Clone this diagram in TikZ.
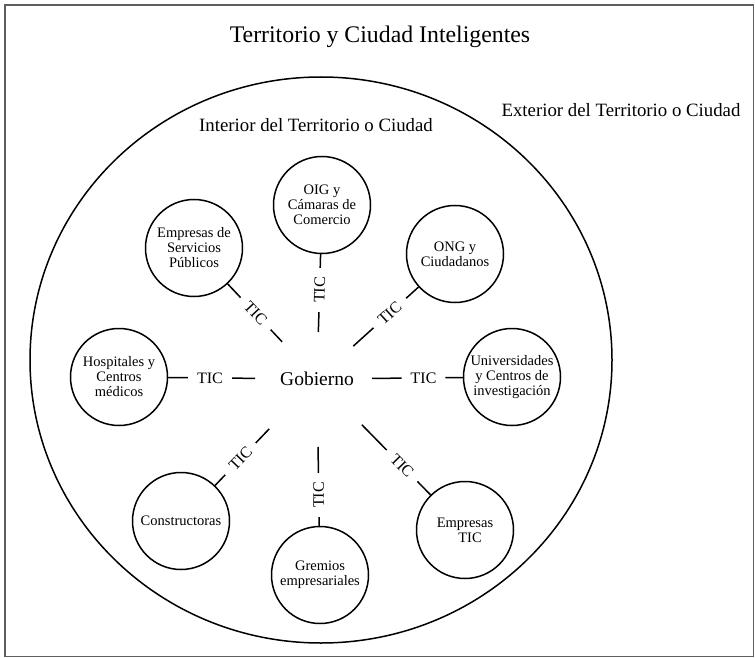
\documentclass[tikz,border=0pt]{standalone}
\usepackage{fontspec}
\setmainfont{Liberation Serif}
\usetikzlibrary{calc,shapes.geometric}
\definecolor{framegray}{HTML}{5E5E5E}

% Spoke from the hub to an actor, broken by a "TIC" label
% #1 actor, #2 gap at the hub (pt), #3 label distance from actor centre (pt), #4 label orientation
\newcommand\ticlink[4]{%
  \draw[link,shorten <=#2pt] (gob.center) -- node[tic,pos=1,#4]{TIC} ($(#1)!#3pt!(gob.center)$) -- (#1);}

\begin{document}
\begin{tikzpicture}[x=1pt,y=-1pt,
  frame/.style={draw=framegray,line width=1.5pt},
  city/.style={draw,ellipse,line width=1.5pt,inner sep=0pt},
  actor/.style={circle,draw,line width=1.5pt,minimum size=97pt,inner sep=0pt,
    align=center,font=\fontsize{14.5}{15}\selectfont},
  link/.style={line width=1.5pt},
  tic/.style={fill=white,inner xsep=9pt,inner ysep=1pt,font=\fontsize{16}{16}\selectfont},
  heading/.style={font=\fontsize{23.8}{25}\selectfont,anchor=base},
  zone/.style={font=\fontsize{18.8}{20}\selectfont,anchor=base}]
\useasboundingbox (0,0) rectangle (755,658);
\draw[frame] (4.8,4.8) rectangle (753.6,656.6);

\node[heading] (title) at (380,43) {Territorio y Ciudad Inteligentes};
\node[zone] (exterior) at (621,117) {Exterior del Territorio o Ciudad};

\node[city,minimum width=582pt,minimum height=566pt] (cityarea) at (321,360) {};
\node[zone] (interior) at (316,131.5) {Interior del Territorio o Ciudad};

\node[font=\fontsize{19.5}{20}\selectfont] (gob) at (317,379) {Gobierno};

\node[actor] (oig) at (322,205) {OIG y\\Cámaras de\\Comercio};
\node[actor] (esp) at (194,248) {Empresas de\\Servicios\\Públicos};
\node[actor] (ong) at (455,254) {ONG y\\Ciudadanos};
\node[actor] (hos) at (119,377) {Hospitales y\\Centros\\médicos};
\node[actor] (uni) at (512,377) {Universidades\\y Centros de\\investigación};
\node[actor] (con) at (181,521) {Constructoras};
\node[actor] (gre) at (320,575) {Gremios\\empresariales};
\node[actor] (etic) at (465,530) {Empresas\\\hspace*{10pt}TIC};

\ticlink{oig}{47}{85}{sloped}
\ticlink{gre}{68}{80}{rotate=90}
\ticlink{hos}{62}{91}{sloped}
\ticlink{uni}{55}{88.5}{sloped}
\ticlink{esp}{51}{90}{sloped}
\ticlink{ong}{49}{88}{sloped}
\ticlink{con}{69}{86}{sloped}
\ticlink{etic}{64}{90}{sloped}
\end{tikzpicture}
\end{document}
